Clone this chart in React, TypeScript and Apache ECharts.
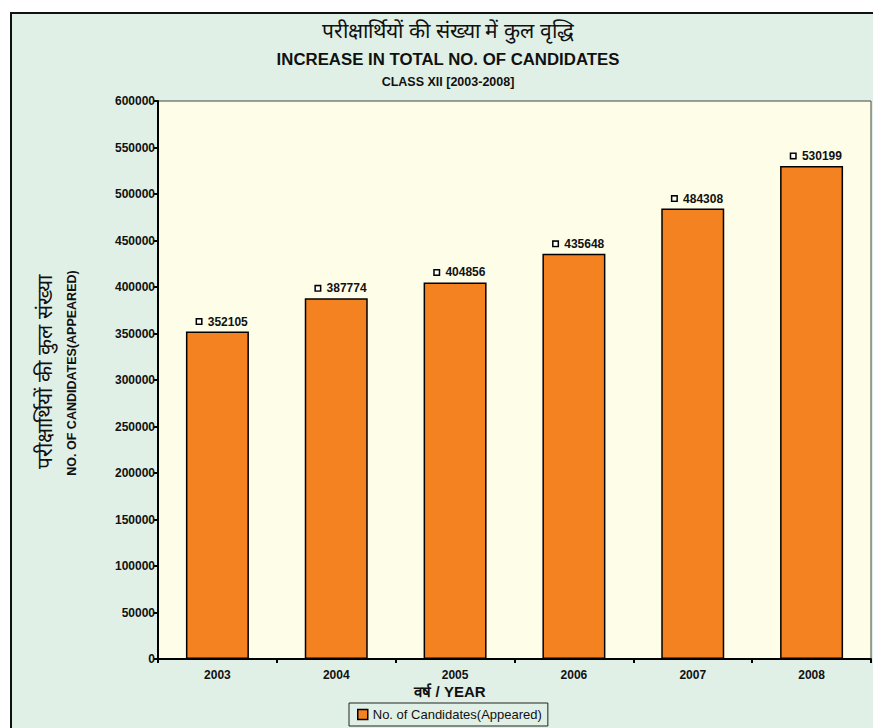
import React, { useEffect, useRef } from "react";
import * as echarts from "echarts";

const years = ["2003", "2004", "2005", "2006", "2007", "2008"];
const candidates = [352105, 387774, 404856, 435648, 484308, 530199];
const seriesName = "No. of Candidates(Appeared)";
const titleHindi = "परीक्षार्थियों की संख्या में कुल वृद्धि";
const titleEng = "INCREASE IN TOTAL NO. OF CANDIDATES";
const subTitle = "CLASS XII [2003-2008]";
const yNameHindi = "परीक्षार्थियों की कुल संख्या";
const yNameEng = "NO. OF CANDIDATES(APPEARED)";
const xName = "वर्ष / YEAR";

export default function App() {
  const ref = useRef<HTMLDivElement>(null);
  useEffect(() => {
    document.body.style.margin = "0";
    const chart = echarts.init(ref.current!, null, { renderer: "svg" });
    const bold = { fontFamily: "Liberation Sans, Arial, sans-serif", fontWeight: "bold" as const };
    chart.setOption({
      animation: false,
      backgroundColor: "transparent",
      grid: {
        left: 158,
        top: 101,
        right: 2,
        bottom: 69,
        show: true,
        backgroundColor: "#fefde8",
        borderColor: "#444",
        borderWidth: 1,
      },
      legend: {
        left: 349,
        top: 703,
        itemWidth: 10,
        itemHeight: 10,
        icon: "rect",
        borderColor: "#222",
        borderWidth: 1,
        padding: [5, 6, 5, 8],
        textStyle: { fontFamily: "Liberation Sans, Arial, sans-serif", fontSize: 13, color: "#111" },
        data: [{ name: seriesName, itemStyle: { color: "#f58220", borderColor: "#000", borderWidth: 1.5 } }],
      },
      xAxis: {
        type: "category",
        data: years,
        axisLine: { lineStyle: { color: "#000", width: 2 } },
        axisTick: { show: true, length: 4, lineStyle: { color: "#000", width: 2 } },
        axisLabel: { ...bold, fontSize: 12, color: "#111", margin: 10 },
      },
      yAxis: {
        type: "value",
        min: 0,
        max: 600000,
        interval: 50000,
        splitLine: { show: false },
        axisLine: { show: true, lineStyle: { color: "#000", width: 2 } },
        axisTick: { show: true, length: 4, lineStyle: { color: "#000", width: 2 } },
        axisLabel: { ...bold, fontSize: 12, color: "#111", margin: 3, formatter: (v: number) => String(v) },
      },
      series: [
        {
          name: seriesName,
          type: "bar",
          data: candidates,
          barWidth: "53%",
          itemStyle: { color: "#f58220", borderColor: "#000", borderWidth: 1.5 },
          label: {
            show: true,
            position: "top",
            distance: 4,
            offset: [5, 0],
            formatter: (p: any) => "{sq|}  {v|" + p.value + "}",
            rich: {
              sq: { width: 4, height: 4, backgroundColor: "#fff", borderColor: "#000", borderWidth: 1.5 },
              v: { ...bold, fontSize: 12, color: "#111" },
            },
          },
        },
      ],
      graphic: [
        {
          type: "text",
          x: 448,
          y: 30,
          style: { text: titleHindi, fontSize: 21, fill: "#111", textAlign: "center", textVerticalAlign: "middle", fontFamily: "sans-serif" },
        },
        {
          type: "text",
          x: 448,
          y: 59,
          style: { text: titleEng, ...bold, fontSize: 16.8, fill: "#111", textAlign: "center", textVerticalAlign: "middle" },
        },
        {
          type: "text",
          x: 448,
          y: 82,
          style: { text: subTitle, ...bold, fontSize: 12.5, fill: "#111", textAlign: "center", textVerticalAlign: "middle" },
        },
        {
          type: "text",
          x: 44,
          y: 372,
          rotation: Math.PI / 2,
          style: { text: yNameHindi, fontSize: 21, fill: "#111", textAlign: "center", textVerticalAlign: "middle", fontFamily: "sans-serif" },
        },
        {
          type: "text",
          x: 72,
          y: 373,
          rotation: Math.PI / 2,
          style: { text: yNameEng, ...bold, fontSize: 12.5, fill: "#111", textAlign: "center", textVerticalAlign: "middle" },
        },
        {
          type: "text",
          x: 450,
          y: 691,
          style: { text: xName, ...bold, fontSize: 15, fill: "#111", textAlign: "center", textVerticalAlign: "middle" },
        },
      ],
    });
    return () => chart.dispose();
  }, []);
  return (
    <div style={{ position: "relative", width: 873, height: 728, background: "#fff", overflow: "hidden" }}>
      <div
        style={{
          position: "absolute",
          left: 10,
          top: 12,
          width: 900,
          height: 760,
          background: "#e0f0e6",
          borderLeft: "2px solid #111",
          borderTop: "2px solid #111",
        }}
      />
      <div ref={ref} style={{ position: "absolute", left: 0, top: 0, width: 873, height: 728 }} />
    </div>
  );
}
